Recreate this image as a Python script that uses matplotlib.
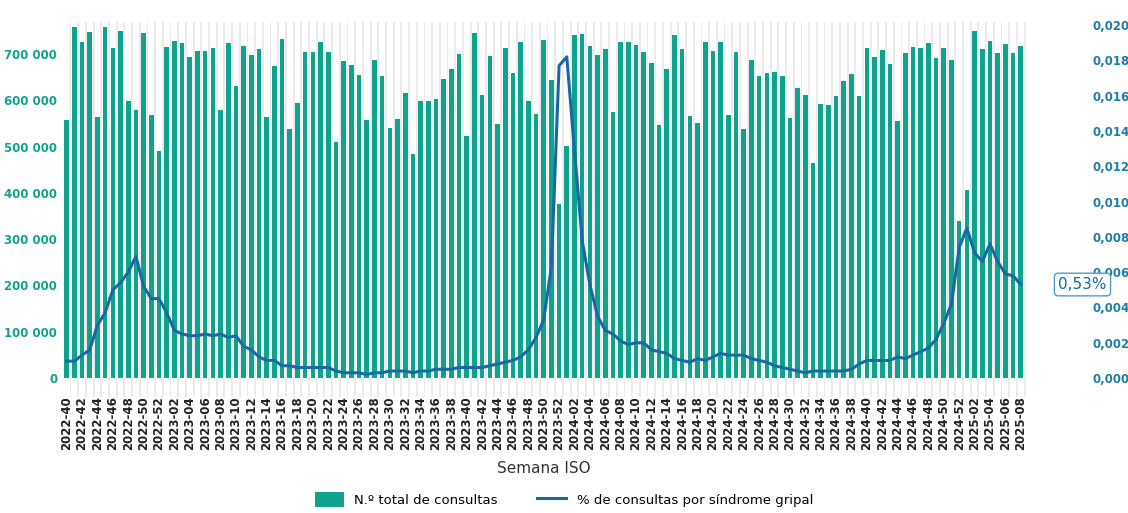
import matplotlib.pyplot as plt
from matplotlib.patches import Rectangle

# weeks 2022-40 .. 2025-08
weeks = ([f'2022-{w:02d}' for w in range(40, 53)] + [f'2023-{w:02d}' for w in range(1, 53)]
         + [f'2024-{w:02d}' for w in range(1, 53)] + [f'2025-{w:02d}' for w in range(1, 9)])

consultas_k = [557, 758, 726, 747, 563, 758, 713, 750, 599, 580,
               745, 569, 491, 716, 729, 723, 693, 706, 706, 713,
               578, 723, 631, 718, 698, 711, 565, 675, 733, 538,
               595, 705, 705, 726, 705, 511, 684, 676, 654, 557,
               686, 652, 541, 559, 616, 483, 598, 598, 602, 645,
               668, 701, 522, 745, 612, 696, 548, 713, 658, 726,
               598, 570,
               730, 643, 376, 502, 740, 743, 717, 697, 710, 574,
               725, 725, 720, 705, 680, 546, 668, 742, 710, 566,
               552, 727, 707, 727, 568, 705, 538, 688, 653, 660,
               662, 653, 562, 626, 611, 465, 592, 590, 609, 641,
               657, 609, 713, 693, 708, 678, 555, 702, 715, 713,
               724, 691, 713, 687, 339, 406, 750, 711, 728, 702,
               721, 702, 717]
consultas = [v * 1000 for v in consultas_k]

pct_gripal = [0.00096, 0.00096, 0.0013, 0.0016, 0.0030, 0.0037, 0.0050, 0.0054, 0.0060, 0.0069,
              0.0052, 0.0045, 0.0045, 0.0037, 0.0027, 0.0025, 0.0024, 0.0024, 0.0025, 0.0024,
              0.0025, 0.0023, 0.0024, 0.0018, 0.0016, 0.0012, 0.0010, 0.0010, 0.0007, 0.0007,
              0.0006, 0.0006, 0.0006, 0.0006, 0.0006, 0.0004, 0.0003, 0.0003, 0.0003, 0.0002,
              0.0003, 0.0003, 0.0004, 0.0004, 0.0004, 0.0003, 0.0004, 0.0004, 0.0005, 0.0005,
              0.0005, 0.0006, 0.0006, 0.0006, 0.0006, 0.0007, 0.0008, 0.0009, 0.0010, 0.0012,
              0.0016, 0.0023,
              0.0033, 0.0063, 0.0177, 0.0182, 0.0129, 0.0078, 0.0053, 0.0035, 0.0027, 0.0025,
              0.0021, 0.0019, 0.0020, 0.0020, 0.0016, 0.0015, 0.0014, 0.0011, 0.0010, 0.0009,
              0.0011, 0.0010, 0.0012, 0.0014, 0.0013, 0.0013, 0.0013, 0.0011, 0.0010, 0.0009,
              0.0007, 0.0006, 0.0005, 0.0004, 0.0003, 0.0004, 0.0004, 0.0004, 0.0004, 0.0004,
              0.0005, 0.0008, 0.0010, 0.0010, 0.0010, 0.0010, 0.0012, 0.0011, 0.0013, 0.0015,
              0.0017, 0.0022, 0.0031, 0.0042, 0.0074, 0.0085, 0.0071, 0.0066, 0.0076, 0.0066,
              0.0059, 0.0058, 0.0053]

teal = '#0fa38e'
blue = '#1769a6'
x = list(range(len(weeks)))

fig = plt.figure(figsize=(11.28, 5.13), dpi=100)
ax = fig.add_axes([0.055, 0.263, 0.854, 0.694])
ax2 = ax.twinx()

ax.set_xlim(-0.6, len(weeks) - 0.4)
ax.set_ylim(0, 769000)
ax2.set_ylim(0, 0.02017)

# light grey separators between bars
for xi in x:
    ax.add_patch(Rectangle((xi + 0.38, -40000), 0.24, 769000 + 40000, color='#ebebeb',
                           lw=0, clip_on=False, zorder=0))

ax.bar(x, consultas, width=0.6, color=teal, zorder=2, label='N.º total de consultas')
ax2.plot(x, pct_gripal, color=blue, lw=2.2, label='% de consultas por síndrome gripal')

for a in (ax, ax2):
    for s in a.spines.values():
        s.set_visible(False)

ax.set_yticks(range(0, 700001, 100000))
ax.set_yticklabels(['0'] + [f'{v} 000' for v in range(100, 701, 100)])
ax.tick_params(axis='y', length=0, labelcolor=teal, labelsize=8.5)
for t in ax.get_yticklabels():
    t.set_fontweight('bold')
ax2.set_yticks([i * 0.002 for i in range(11)])
ax2.set_yticklabels([f'{i * 0.002:.3f}'.replace('.', ',') for i in range(11)])
ax2.tick_params(axis='y', length=0, labelcolor='#1f7fa8', labelsize=8.5, pad=48)
for t in ax2.get_yticklabels():
    t.set_fontweight('bold')

ax.set_xticks(x[::2])
ax.set_xticklabels(weeks[::2], rotation=90, fontsize=8.5, fontweight='bold', color='#222222')
ax.tick_params(axis='x', length=0, pad=13)
ax.set_xlabel('Semana ISO', fontsize=11, color='#333333', labelpad=8)

ax2.annotate('0,53%', xy=(x[-1], pct_gripal[-1]), xytext=(27, 0), textcoords='offset points',
             ha='left', va='center', fontsize=11, color=blue,
             bbox=dict(boxstyle='round,pad=0.25', fc='white', ec='#4a9fd0', lw=1))

h1, l1 = ax.get_legend_handles_labels()
h2, l2 = ax2.get_legend_handles_labels()
fig.legend(h1 + h2, l1 + l2, loc='lower center', bbox_to_anchor=(0.5, -0.012), ncol=2,
           frameon=False, fontsize=9.5, handlelength=2.2, handleheight=1.4, columnspacing=3)

fig.savefig('out.png', dpi=100, facecolor='white')
